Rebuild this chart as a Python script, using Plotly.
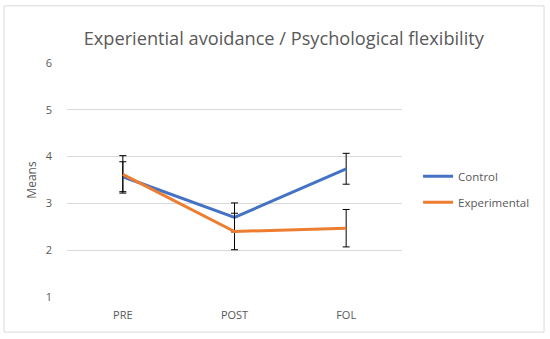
import plotly.graph_objects as go

categories = ["PRE", "POST", "FOL"]
control_means = [3.57, 2.70, 3.74]
control_err = [0.32, 0.31, 0.33]
experimental_means = [3.62, 2.40, 2.47]
experimental_err = [0.40, 0.39, 0.40]

FONT = "Open Sans"
TXT = "#595959"

fig = go.Figure()
fig.add_trace(go.Scatter(
    x=categories, y=control_means, name="Control", mode="lines",
    line=dict(color="#4472C4", width=3),
    error_y=dict(type="data", array=control_err, color="black", thickness=1, width=3.5),
    legendgroup="c",
))
fig.add_trace(go.Scatter(
    x=categories, y=experimental_means, name="Experimental", mode="lines",
    line=dict(color="#ED7D31", width=3),
    error_y=dict(type="data", array=experimental_err, color="black", thickness=1, width=3.5),
    legendgroup="e",
))

fig.update_layout(
    width=550, height=339,
    margin=dict(l=67, r=148, t=63, b=42),
    paper_bgcolor="white", plot_bgcolor="white",
    font=dict(family=FONT, color=TXT, size=11),
    title=dict(text="Experiential avoidance / Psychological flexibility",
               x=0.516, xanchor="center", y=0.885, yanchor="middle",
               font=dict(family=FONT, size=18.2, color=TXT)),
    xaxis=dict(range=[-0.5, 2.5], showgrid=False, showline=False, zeroline=False,
               ticks="", ticklabelstandoff=10,
               tickfont=dict(size=11, color=TXT)),
    yaxis=dict(range=[1, 6], dtick=1, showgrid=True, gridcolor="#d9d9d9", gridwidth=1,
               zeroline=False, showline=False, ticks="", ticklabelstandoff=14,
               title=dict(text="Means", standoff=6, font=dict(size=12, color=TXT)),
               tickfont=dict(size=11, color=TXT)),
    legend=dict(x=1.048, xanchor="left", y=0.46, yanchor="middle",
                font=dict(size=11.5, color=TXT), tracegroupgap=7,
                bgcolor="rgba(0,0,0,0)"),
    shapes=[dict(type="rect", xref="paper", yref="paper",
                 x0=-0.188, x1=1.424, y0=-0.150, y1=1.244,
                 line=dict(color="#d9d9d9", width=1), layer="below")],
)

fig.write_html("out.html", config={"displayModeBar": False},
               post_script="document.body.style.margin='0';")
